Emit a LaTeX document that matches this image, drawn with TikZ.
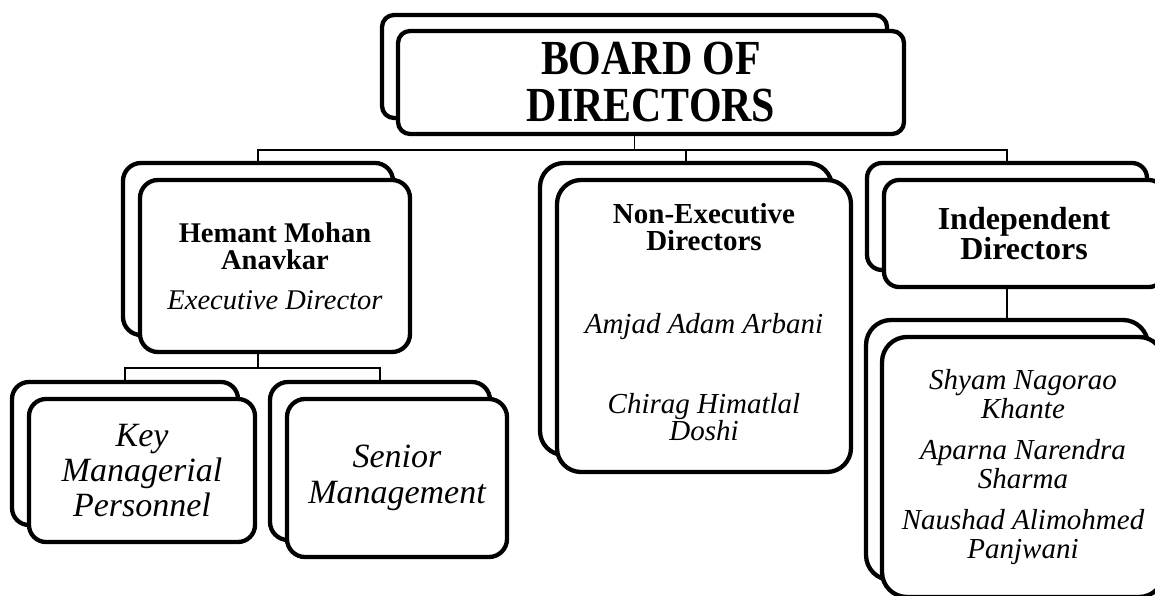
\documentclass[tikz,border=0pt]{standalone}
\usepackage{fontspec}
\setmainfont{Liberation Serif}
\newfontfamily\boardfont{Liberation Serif}[FakeStretch=0.855]
\begin{document}
\begin{tikzpicture}[x=1pt,y=-1pt,
  bx/.style={draw=black, line width=4.3pt, fill=white, rectangle, inner sep=0pt, align=center},
  conn/.style={draw=black, line width=1.3pt}]
\useasboundingbox (0,0) rectangle (1155,596);
\clip (0,0) rectangle (1155,596);
% Board of directors
\node[bx, minimum width=505pt, minimum height=103pt, rounded corners=12pt] (boardB) at (634.5,66.5) {};
\node[bx, minimum width=506pt, minimum height=103pt, rounded corners=12pt,
  font={\boardfont\fontsize{49}{47}\selectfont\bfseries}] (board) at (651,82.5)
  {BOARD OF\\DIRECTORS};
% Hemant
\node[bx, minimum width=270pt, minimum height=172pt, rounded corners=18pt] (hemB) at (258,249) {};
\node[bx, minimum width=270pt, minimum height=172pt, rounded corners=18pt,
  font={\fontsize{28.5}{27}\selectfont}] (hem) at (275,266)
  {\textbf{Hemant Mohan}\\\textbf{Anavkar}\\[13pt]\textit{Executive Director}};
% Non-executive
\node[bx, minimum width=292pt, minimum height=292pt, rounded corners=24pt] (ndB) at (686,309) {};
\node[bx, minimum width=294pt, minimum height=292pt, rounded corners=24pt,
  font={\fontsize{29}{27}\selectfont}] (nd) at (704,326)
  {\textbf{Non-Executive}\\\textbf{Directors}\\[56pt]
   \textit{Amjad Adam Arbani}\\[53pt]
   \textit{Chirag Himatlal}\\\textit{Doshi}\rule[-8pt]{0pt}{8pt}};
% Independent
\node[bx, minimum width=280pt, minimum height=107pt, rounded corners=15pt] (indB) at (1007,216.5) {};
\node[bx, minimum width=280pt, minimum height=107pt, rounded corners=15pt,
  font={\fontsize{32}{30}\selectfont\bfseries}] (ind) at (1024,233.5)
  {Independent\\Directors};
% Independent members
\node[bx, minimum width=282pt, minimum height=260pt, rounded corners=25pt] (chB) at (1007,450) {};
\node[bx, minimum width=282pt, minimum height=260pt, rounded corners=25pt,
  font={\fontsize{29}{28.5}\selectfont\itshape}] (ch) at (1023,467)
  {Shyam Nagorao\\Khante\\[13pt]
   Aparna Narendra\\Sharma\\[13pt]
   Naushad Alimohmed\\Panjwani};
% Key managerial personnel
\node[bx, minimum width=226pt, minimum height=143pt, rounded corners=17pt] (kmB) at (125,453.5) {};
\node[bx, minimum width=226pt, minimum height=143pt, rounded corners=17pt,
  font={\fontsize{34}{35}\selectfont\itshape}] (km) at (142,470.5)
  {Key\\Managerial\\Personnel};
% Senior management
\node[bx, minimum width=220pt, minimum height=158pt, rounded corners=18pt] (smB) at (380,461) {};
\node[bx, minimum width=220pt, minimum height=158pt, rounded corners=18pt,
  font={\fontsize{34}{36}\selectfont\itshape}] (sm) at (397,478)
  {Senior\\Management};
% connectors
\coordinate (bus1) at (634.5,150);
\coordinate (bus2) at (258,368);
\draw[conn] (boardB |- board.south) -- (bus1);
\draw[conn] (hemB.north) |- (bus1) -| (indB.north);
\draw[conn] (bus1) -| (ndB.north);
\draw[conn] (hemB |- hem.south) -- (bus2);
\draw[conn] (kmB.north) |- (bus2) -| (smB.north);
\draw[conn] (indB |- ind.south) -- (chB.north);
\end{tikzpicture}
\end{document}
